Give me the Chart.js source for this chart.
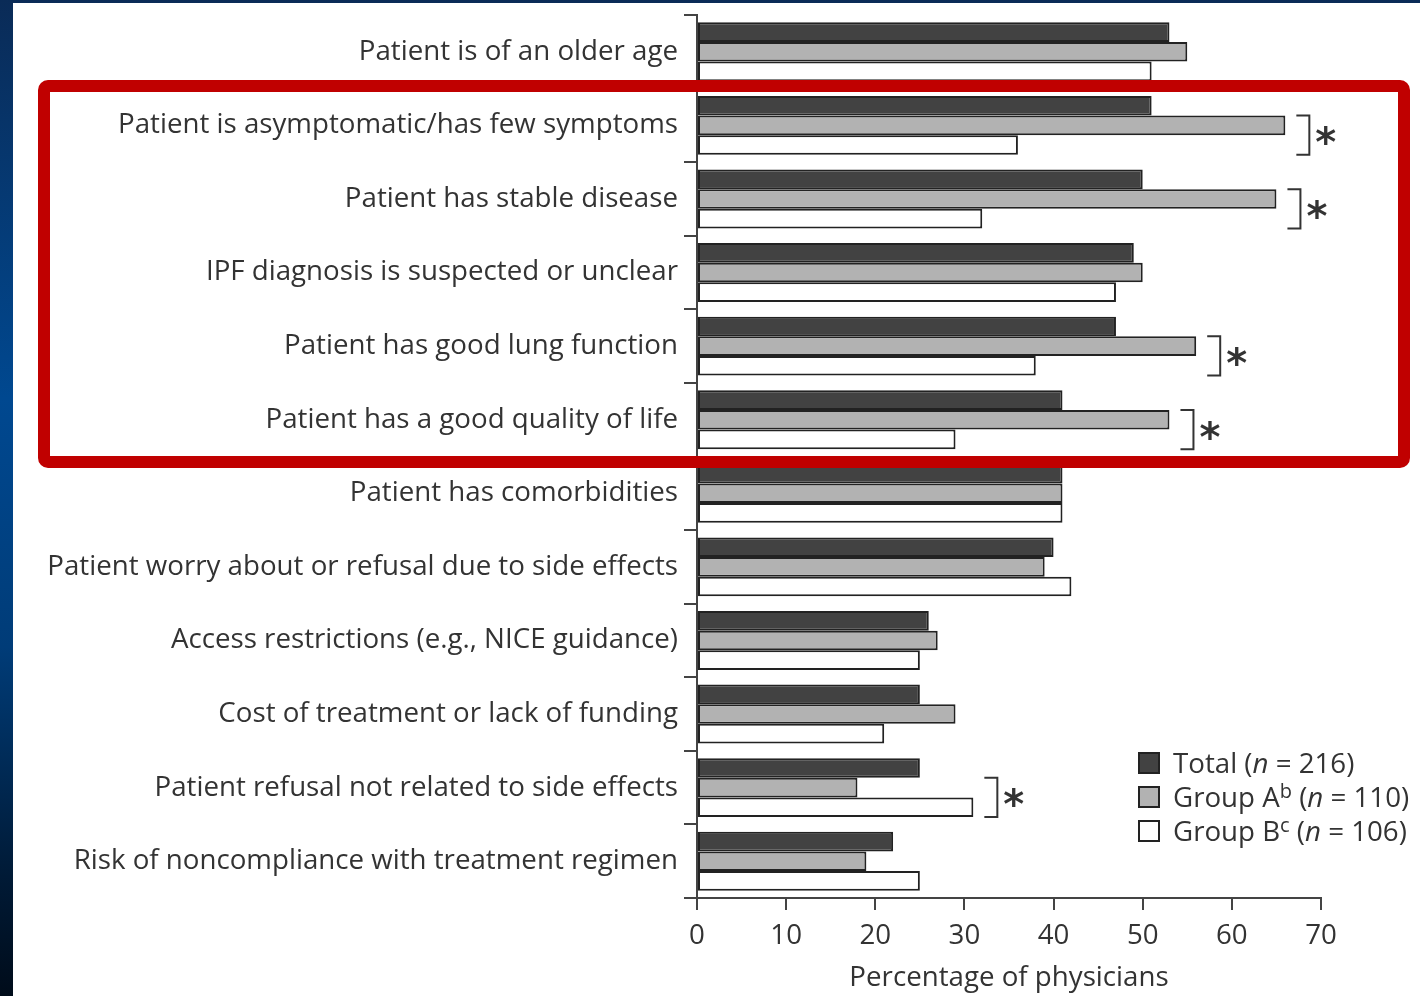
<!DOCTYPE html>
<html>
<head>
<meta charset="utf-8">
<script src="https://cdn.jsdelivr.net/npm/chart.js@4.4.1/dist/chart.umd.min.js"></script>
<style>
  html, body { margin: 0; padding: 0; width: 1420px; height: 996px; overflow: hidden; }
  body {
    position: relative;
    background: linear-gradient(to bottom, #0a2b57 0%, #004890 40%, #003c78 65%, #001a36 88%, #000c1a 100%);
  }
  #panel { position: absolute; left: 13px; top: 3px; width: 1407px; height: 993px; background: #ffffff; }
  #chart { position: absolute; left: 0; top: 0; }
  #frame {
    position: absolute; left: 38px; top: 80px; width: 1348px; height: 364px;
    border: 12px solid #c00000; border-radius: 10px; pointer-events: none;
  }
</style>
</head>
<body>
<div id="panel"><canvas id="chart" width="1407" height="993"></canvas></div>
<div id="frame"></div>
<script>
// Reasons for not starting antifibrotic treatment, % of physicians
const categories = [
  'Patient is of an older age',
  'Patient is asymptomatic/has few symptoms',
  'Patient has stable disease',
  'IPF diagnosis is suspected or unclear',
  'Patient has good lung function',
  'Patient has a good quality of life',
  'Patient has comorbidities',
  'Patient worry about or refusal due to side effects',
  'Access restrictions (e.g., NICE guidance)',
  'Cost of treatment or lack of funding',
  'Patient refusal not related to side effects',
  'Risk of noncompliance with treatment regimen'
];
const totalPct  = [53, 51, 50, 49, 47, 41, 41, 40, 26, 25, 25, 22];
const groupAPct = [55, 66, 65, 50, 56, 53, 41, 39, 27, 29, 18, 19];
const groupBPct = [51, 36, 32, 47, 38, 29, 41, 42, 25, 21, 31, 25];

// Group A vs Group B differences marked with an asterisk
const significant = [false, true, true, false, true, true, false, false, false, false, true, false];

// Legend entries: name, superscript, n
const seriesNames = ['Total', 'Group A', 'Group B'];
const seriesSup = ['', 'b', 'c'];
const seriesN = [216, 110, 106];

const xTickMin = 0;
const xTickMax = 70;
const xTickStep = 10;
const xTitle = 'Percentage of physicians';

const FONT = '"Open Sans", "Noto Sans", sans-serif';
const FS = 27.7;
const TEXT = '#333333';
const LINE = '#444444';
const fills = ['#424242', '#b2b2b2', '#ffffff'];

const brackets = {
  id: 'brackets',
  afterDatasetsDraw(chart) {
    const ctx = chart.ctx;
    const xs = chart.scales.x;
    const metaA = chart.getDatasetMeta(1);
    const metaB = chart.getDatasetMeta(2);
    ctx.save();
    ctx.strokeStyle = TEXT;
    ctx.lineWidth = 2;
    ctx.fillStyle = TEXT;
    ctx.font = 'bold 40px "DejaVu Sans", sans-serif';
    const m = ctx.measureText('*');
    significant.forEach((sig, i) => {
      if (!sig) return;
      const a = metaA.data[i], b = metaB.data[i];
      const xe = xs.getPixelForValue(Math.max(groupAPct[i], groupBPct[i])) + 24;
      const top = a.y - a.height / 2;
      const bot = b.y + b.height / 2;
      ctx.beginPath();
      ctx.moveTo(xe - 13, top);
      ctx.lineTo(xe, top);
      ctx.lineTo(xe, bot);
      ctx.lineTo(xe - 13, bot);
      ctx.stroke();
      const cy = (a.y + b.y) / 2;
      ctx.textAlign = 'left';
      ctx.textBaseline = 'alphabetic';
      ctx.fillText('*', xe + 6, cy + (m.actualBoundingBoxAscent - m.actualBoundingBoxDescent) / 2);
    });
    ctx.restore();
  }
};

const richLegend = {
  id: 'richLegend',
  afterDraw(chart, args, opts) {
    const ctx = chart.ctx;
    ctx.save();
    const regular = FS + 'px ' + FONT;
    const italic = 'italic ' + FS + 'px ' + FONT;
    const sup = '20px ' + FONT;
    seriesNames.forEach((name, i) => {
      const boxY = opts.y + i * opts.rowGap;
      ctx.fillStyle = fills[i];
      ctx.fillRect(opts.x, boxY, 22, 22);
      ctx.strokeStyle = '#222';
      ctx.lineWidth = 2;
      ctx.strokeRect(opts.x + 1, boxY + 1, 20, 20);
      const base = boxY + 21;
      const runs = [
        { t: name, f: regular, dy: 0 },
        { t: seriesSup[i], f: sup, dy: -9 },
        { t: ' (', f: regular, dy: 0 },
        { t: 'n', f: italic, dy: 0 },
        { t: ' = ' + seriesN[i] + ')', f: regular, dy: 0 }
      ];
      let tx = opts.x + 35;
      ctx.fillStyle = TEXT;
      ctx.textAlign = 'left';
      ctx.textBaseline = 'alphabetic';
      runs.forEach(r => {
        if (!r.t) return;
        ctx.font = r.f;
        ctx.fillText(r.t, tx, base + r.dy);
        tx += ctx.measureText(r.t).width;
      });
    });
    ctx.restore();
  }
};

new Chart(document.getElementById('chart'), {
  type: 'bar',
  data: {
    labels: categories,
    datasets: [
      { label: seriesNames[0], data: totalPct, backgroundColor: fills[0] },
      { label: seriesNames[1], data: groupAPct, backgroundColor: fills[1] },
      { label: seriesNames[2], data: groupBPct, backgroundColor: fills[2] }
    ]
  },
  options: {
    indexAxis: 'y',
    responsive: false,
    animation: false,
    events: [],
    layout: { padding: { left: 0, right: 99, top: 12, bottom: 0 } },
    datasets: {
      bar: {
        categoryPercentage: 0.8,
        barPercentage: 1.0,
        borderWidth: 2,
        borderColor: '#222222',
        borderSkipped: false
      }
    },
    scales: {
      y: {
        grid: { drawOnChartArea: false, drawTicks: true, tickLength: 13, color: LINE, lineWidth: 2, offset: true },
        border: { display: true, color: LINE, width: 2 },
        ticks: { color: TEXT, padding: 6, font: { family: FONT, size: FS } },
        afterFit(scale) {
          scale.width = 684;
          scale.paddingTop = 0;
          scale.paddingBottom = 0;
        }
      },
      x: {
        min: xTickMin,
        max: xTickMax,
        grid: { drawOnChartArea: false, drawTicks: true, tickLength: 12, color: LINE, lineWidth: 2 },
        border: { display: true, color: LINE, width: 2 },
        ticks: { stepSize: xTickStep, color: TEXT, padding: 9, font: { family: FONT, size: FS } },
        title: {
          display: true, text: xTitle, color: TEXT,
          font: { family: FONT, size: FS }, padding: { top: 0, bottom: 1 }
        },
        afterFit(scale) { scale.height = 98; }
      }
    },
    plugins: {
      legend: { display: false },
      tooltip: { enabled: false },
      richLegend: { x: 1125, y: 749, rowGap: 34 }
    }
  },
  plugins: [brackets, richLegend]
});
</script>
</body>
</html>
